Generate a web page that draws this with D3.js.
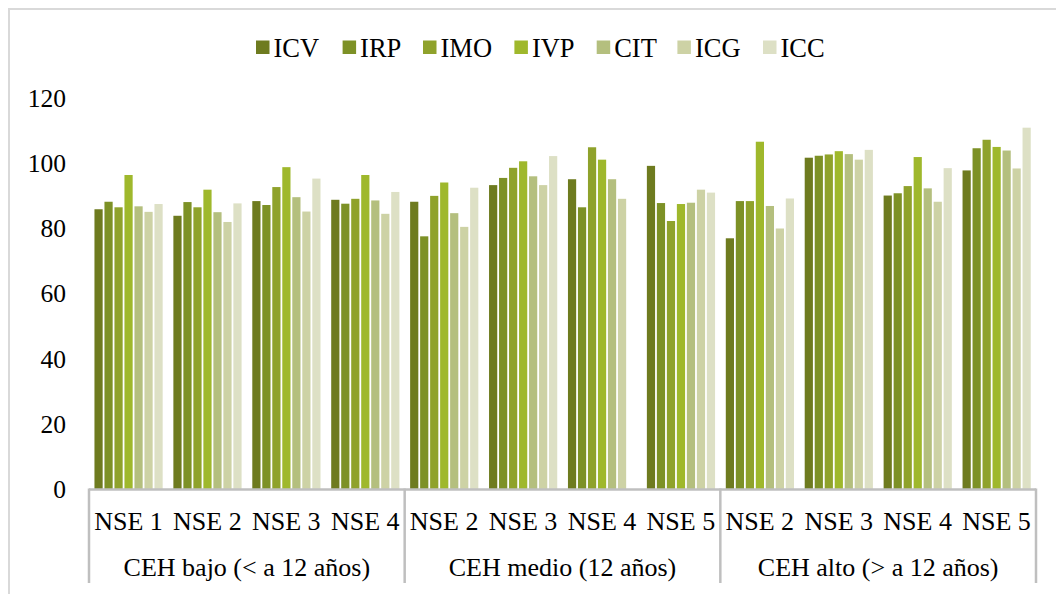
<!DOCTYPE html>
<html>
<head>
<meta charset="utf-8">
<script src="https://cdn.jsdelivr.net/npm/d3@7"></script>
<style>
  @font-face { font-family: "ChartSerif"; src: local("Liberation Serif"), local("LiberationSerif"), local("Liberation Serif Regular"), local("LiberationSerif-Regular"); }
</style>
</head>
<body style="margin:0">
<svg id="chart" width="1056" height="594"></svg>
<script>
const subCategories = ["NSE 1","NSE 2","NSE 3","NSE 4","NSE 2","NSE 3","NSE 4","NSE 5","NSE 2","NSE 3","NSE 4","NSE 5"];
const groups = ["CEH bajo (< a 12 años)", "CEH medio (12 años)", "CEH alto (> a 12 años)"];
const groupSizes = [4, 4, 4];
const seriesNames = ["ICV","IRP","IMO","IVP","CIT","ICG","ICC"];
const ICV = [85.9, 83.9, 88.4, 88.8, 88.2, 93.3, 95.1, 99.2, 77.0, 101.7, 90.1, 97.8];
const IRP = [88.2, 88.1, 87.2, 87.6, 77.6, 95.5, 86.5, 87.8, 88.4, 102.3, 90.8, 104.6];
const IMO = [86.5, 86.5, 92.7, 89.1, 90.0, 98.6, 104.9, 82.3, 88.4, 102.7, 93.0, 107.2];
const IVP = [96.4, 91.9, 98.8, 96.4, 94.1, 100.6, 101.1, 87.5, 106.6, 103.7, 101.9, 105.0];
const CIT = [86.8, 85.0, 89.6, 88.6, 84.7, 96.0, 95.1, 87.9, 86.9, 102.8, 92.3, 103.9];
const ICG = [85.1, 82.0, 85.2, 84.5, 80.5, 93.3, 89.1, 91.9, 80.0, 101.1, 88.2, 98.4];
const ICC = [87.5, 87.7, 95.3, 91.2, 92.5, 102.2, null, 91.0, 89.2, 104.1, 98.5, 110.9];
const yTicks = [0, 20, 40, 60, 80, 100, 120];
const colors = ["#6e7b1f", "#7d9126", "#8fa22b", "#9fb82c", "#b4bf7e", "#cdd2a5", "#dde0c5"];

const seriesValues = [ICV, IRP, IMO, IVP, CIT, ICG, ICC];

const svg = d3.select("#chart");

function addText(parent, size) {
  return parent.append("text")
    .attr("font-size", size)
    .style("font-family", "'Liberation Serif'");
}

// outer chart border (top & left visible)
svg.append("line").attr("x1", 8).attr("y1", 9).attr("x2", 1056).attr("y2", 9)
  .attr("stroke", "#d9d9d9").attr("stroke-width", 2);
svg.append("line").attr("x1", 9).attr("y1", 8).attr("x2", 9).attr("y2", 594)
  .attr("stroke", "#d9d9d9").attr("stroke-width", 2);

const left = 89, right = 1036, y0px = 489.5, ytop = 98;
const x = d3.scaleBand().domain(d3.range(subCategories.length)).range([left, right]).paddingInner(0).paddingOuter(0);
const bw = x.bandwidth();
const xs = d3.scaleBand().domain(seriesNames).range([bw * 0.0565, bw * 0.0565 + 70]).padding(0);
const y = d3.scaleLinear().domain([0, 120]).range([y0px, ytop]);

// bars
const barData = [];
seriesNames.forEach((s, si) => {
  seriesValues[si].forEach((v, ci) => {
    if (v !== null) barData.push({ s, si, ci, v });
  });
});
svg.append("g").selectAll("rect").data(barData).enter().append("rect")
  .attr("x", d => x(d.ci) + xs(d.s) + 1)
  .attr("width", xs.bandwidth() - 1.8)
  .attr("y", d => y(d.v))
  .attr("height", d => y(0) - y(d.v))
  .attr("fill", d => colors[d.si]);

// category axis lines
const axisColor = "#bfbfbf";
svg.append("line").attr("x1", left).attr("x2", right).attr("y1", y0px).attr("y2", y0px)
  .attr("stroke", axisColor).attr("stroke-width", 2.5);
let idx = 0;
const bounds = [0];
groupSizes.forEach(n => { idx += n; bounds.push(idx); });
bounds.forEach(b => {
  const xp = b < subCategories.length ? x(b) : right;
  svg.append("line").attr("x1", xp).attr("x2", xp).attr("y1", y0px - 1).attr("y2", 583)
    .attr("stroke", axisColor).attr("stroke-width", 2.5);
});

// legend
const legendX = [256, 342.6, 423, 514.4, 596.7, 677.4, 763];
const lg = svg.append("g");
seriesNames.forEach((s, i) => {
  lg.append("rect").attr("x", legendX[i]).attr("y", 40.5).attr("width", 13.5).attr("height", 13.5).attr("fill", colors[i]);
  addText(lg, 26.5).attr("x", legendX[i] + 17.5).attr("y", 57).text(s);
});

// y tick labels (positions from the linear scale)
const gy = svg.append("g");
yTicks.forEach(t => {
  addText(gy, 25.5).attr("x", 66).attr("y", y(t) + 8.6).attr("text-anchor", "end").text(String(t));
});

// sub category labels
const gsub = svg.append("g");
subCategories.forEach((d, i) => {
  addText(gsub, 26).attr("x", x(i) + bw / 2).attr("y", 529.5).attr("text-anchor", "middle").text(d);
});

// group labels
const ggrp = svg.append("g");
groups.forEach((d, i) => {
  const x1 = x(bounds[i]);
  const x2 = bounds[i + 1] < subCategories.length ? x(bounds[i + 1]) : right;
  addText(ggrp, 26).attr("x", (x1 + x2) / 2).attr("y", 576).attr("text-anchor", "middle").text(d);
});
</script>
</body>
</html>
